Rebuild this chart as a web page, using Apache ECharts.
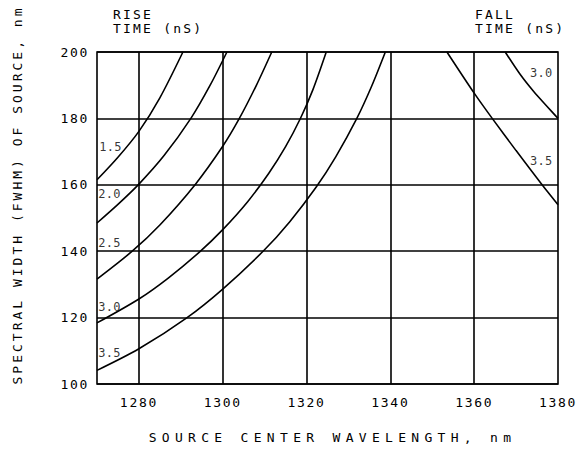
<!DOCTYPE html>
<html>
<head>
<meta charset="utf-8">
<script src="https://cdn.jsdelivr.net/npm/echarts@6/dist/echarts.min.js"></script>
<style>
html,body{margin:0;padding:0;background:#fff;}
#main{width:588px;height:476px;}
</style>
</head>
<body>
<div id="main"></div>
<script>
// ---- data ----
const xTicks = [1280, 1300, 1320, 1340, 1360, 1380];
const yTicks = [100, 120, 140, 160, 180, 200];
const xGrid = [1280, 1300, 1320, 1340, 1360];

const rise15X = [1270, 1275, 1280, 1285, 1290.5];
const rise15Y = [161.5, 168.3, 176.1, 186.2, 200];
const rise20X = [1270, 1275, 1280, 1286, 1292.4, 1297, 1301];
const rise20Y = [148.5, 154.1, 160.2, 168.8, 180, 190, 200];
const rise25X = [1270, 1278.4, 1285, 1293.5, 1300, 1303.8, 1308, 1311.7];
const rise25Y = [131.6, 140, 147.9, 160.2, 171.6, 179.6, 189.9, 200];
const rise30X = [1270, 1280, 1287, 1294.5, 1300, 1306, 1311, 1315, 1318.5, 1321.5, 1324.7];
const rise30Y = [118.4, 125.6, 131.9, 139.8, 146.5, 155.0, 163.5, 171.5, 179.9, 188.6, 200];
const rise35X = [1270, 1280, 1291.5, 1300, 1309.8, 1316, 1322.4, 1327, 1332, 1335.5, 1338.8];
const rise35Y = [104.1, 110.6, 120, 128.6, 140.2, 148.9, 159.5, 168.5, 180, 189.6, 200];
const fall30X = [1367.4, 1371, 1374.2, 1377.4, 1380];
const fall30Y = [200, 193.2, 188.1, 183.6, 180];
const fall35X = [1353.5, 1360, 1364.3, 1370, 1376.2, 1380];
const fall35Y = [200, 187.6, 180, 170.3, 160, 154];

const curveLabels = ['1.5', '2.0', '2.5', '3.0', '3.5', '3.0', '3.5'];
const labelX = [1273.2, 1273.0, 1273.0, 1273.0, 1273.0, 1376.0, 1376.0];
const labelY = [171.3, 157.3, 142.5, 123.3, 109.2, 193.8, 167.3];

const riseTitle = ['RISE', 'TIME (nS)'];
const fallTitle = ['FALL', 'TIME (nS)'];
const xName = 'SOURCE CENTER WAVELENGTH, nm';
const yName = 'SPECTRAL WIDTH (FWHM) OF SOURCE, nm';

// ---- chart ----
const FONT = '"DejaVu Sans Mono", monospace';
const pair = (xs, ys) => xs.map((x, i) => [x, ys[i]]);
const lineSeries = (xs, ys) => ({
  type: 'line', data: pair(xs, ys), smooth: 0.3, showSymbol: false,
  lineStyle: {color: '#000', width: 1.6}, silent: true, z: 3
});

const chart = echarts.init(document.getElementById('main'), null, {renderer: 'svg'});
const option = {
  animation: false,
  backgroundColor: '#fff',
  grid: {left: 97, right: 30, top: 52, bottom: 92, show: true, borderColor: '#000', borderWidth: 1.6},
  xAxis: {
    type: 'value', min: 1270, max: 1380, interval: 10,
    axisLine: {show: false}, axisTick: {show: false}, splitLine: {show: false},
    axisLabel: {
      margin: 12, color: '#000', fontFamily: FONT, fontSize: 13,
      formatter: v => (xTicks.indexOf(v) >= 0 ? String(v) : '')
    },
    name: xName, nameLocation: 'middle', nameGap: 47,
    nameTextStyle: {color: '#000', fontFamily: FONT, fontSize: 13, padding: [0, 0, 0, 10]}
  },
  yAxis: {
    type: 'value', min: 100, max: 200, interval: 20,
    axisLine: {show: false}, axisTick: {show: false},
    splitLine: {show: true, lineStyle: {color: '#000', width: 1.6}},
    axisLabel: {
      margin: 8, color: '#000', fontFamily: FONT, fontSize: 13,
      formatter: v => (yTicks.indexOf(v) >= 0 ? String(v) : '')
    }
  },
  graphic: [
    {type: 'text', left: 113, top: 8, style: {text: riseTitle[0], font: '13px ' + FONT, fill: '#000'}},
    {type: 'text', left: 113, top: 22, style: {text: riseTitle[1], font: '13px ' + FONT, fill: '#000'}},
    {type: 'text', left: 475, top: 8, style: {text: fallTitle[0], font: '13px ' + FONT, fill: '#000'}},
    {type: 'text', left: 475, top: 22, style: {text: fallTitle[1], font: '13px ' + FONT, fill: '#000'}},
    {type: 'text', x: 17, y: 195, rotation: Math.PI / 2,
     style: {text: yName, font: '13px ' + FONT, fill: '#000', align: 'center', verticalAlign: 'middle'}}
  ],
  series: [
    lineSeries(rise15X, rise15Y),
    lineSeries(rise20X, rise20Y),
    lineSeries(rise25X, rise25Y),
    lineSeries(rise30X, rise30Y),
    lineSeries(rise35X, rise35Y),
    lineSeries(fall30X, fall30Y),
    lineSeries(fall35X, fall35Y),
    {
      type: 'line', data: [], silent: true,
      markLine: {
        silent: true, symbol: ['none', 'none'], label: {show: false},
        lineStyle: {color: '#000', width: 1.6, type: 'solid'},
        data: xGrid.map(v => ({xAxis: v}))
      }
    },
    {
      type: 'scatter', symbolSize: 0, silent: true, z: 4,
      data: labelX.map((x, i) => ({value: [x, labelY[i]], name: curveLabels[i]})),
      label: {
        show: true, position: 'inside', color: '#000', fontFamily: FONT, fontSize: 12,
        formatter: p => p.name
      }
    }
  ]
};
chart.setOption(option);

function applySpacing() {
  document.querySelectorAll('#main svg text').forEach(t => {
    const s = t.textContent || '';
    let ls = 1.7;
    if (s.indexOf('SOURCE CENTER') === 0) ls = 5.3;
    else if (s.indexOf('SPECTRAL') === 0) ls = 3.0;
    else if (/RISE|FALL|TIME/.test(s)) ls = 2.2;
    else if (/^\d\.\d$/.test(s)) ls = 0.3;
    t.style.letterSpacing = ls + 'px';
  });
}
chart.on('finished', applySpacing);
setTimeout(applySpacing, 50);
</script>
</body>
</html>
